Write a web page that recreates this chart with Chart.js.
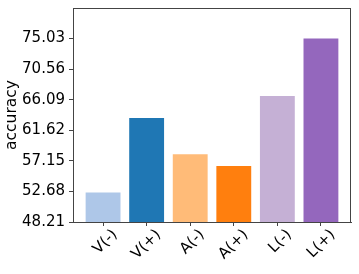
<!DOCTYPE html>
<html><head><meta charset="utf-8">
<script src="https://cdn.jsdelivr.net/npm/chart.js@4.4.0/dist/chart.umd.min.js"></script>
<style>html,body{margin:0;padding:0;background:#fff}#wrap{width:359px;height:274px;position:relative}</style>
</head><body><div id="wrap"><canvas id="c"></canvas></div>
<script>
const categories = ['V(-)', 'V(+)', 'A(-)', 'A(+)', 'L(-)', 'L(+)'];
const accuracy = [52.53, 63.43, 58.10, 56.39, 66.62, 75.03];
const barColors = ['#aec7e8', '#1f77b4', '#ffbb78', '#ff7f0e', '#c5b0d5', '#9467bd'];
const yTicks = [48.21, 52.68, 57.15, 61.62, 66.09, 70.56, 75.03];
const yMin = 48.21, yMax = 79.50;
const yLabel = 'accuracy';

const FONT = {family: '"DejaVu Sans", sans-serif', size: 15};
const frame = {
  id: 'frame',
  afterDraw(chart) {
    const {ctx, chartArea: a} = chart;
    ctx.save();
    ctx.strokeStyle = '#444';
    ctx.lineWidth = 1;
    ctx.strokeRect(Math.round(a.left) + 0.5, Math.round(a.top) + 0.5, Math.round(a.right - a.left) - 1, Math.round(a.bottom - a.top));
    ctx.restore();
  }
};
const noPad = s => { s.paddingTop = 0; s.paddingBottom = 0; s.paddingLeft = 0; s.paddingRight = 0; };

new Chart(document.getElementById('c'), {
  type: 'bar',
  data: {
    datasets: [{
      data: accuracy.map((v, i) => ({x: i, y: v})),
      backgroundColor: barColors,
      borderWidth: 0,
      barPercentage: 0.8,
      categoryPercentage: 1.0
    }]
  },
  options: {
    responsive: true,
    maintainAspectRatio: false,
    animation: false,
    devicePixelRatio: 1,
    layout: {padding: {top: 8, right: 8, left: 0, bottom: 0}},
    plugins: {legend: {display: false}, tooltip: {enabled: false}},
    scales: {
      x: {
        type: 'linear',
        offset: false,
        min: -0.69, max: 5.69,
        afterBuildTicks: s => { s.ticks = categories.map((c, i) => ({value: i})); },
        afterFit: s => { s.height = 52; noPad(s); },
        grid: {offset: false, drawOnChartArea: false, drawTicks: true, tickLength: 4, tickColor: '#444'},
        border: {display: true, color: '#444'},
        ticks: {
          callback: v => categories[v],
          minRotation: 45, maxRotation: 45,
          labelOffset: 12,
          padding: 0,
          color: '#000',
          font: FONT,
          autoSkip: false
        }
      },
      y: {
        min: yMin, max: yMax,
        afterBuildTicks: s => { s.ticks = yTicks.map(v => ({value: v})); },
        afterFit: s => { s.width = 73; noPad(s); },
        grid: {drawOnChartArea: false, drawTicks: true, tickLength: 4, tickColor: '#444'},
        border: {display: true, color: '#444'},
        ticks: {
          callback: v => v.toFixed(2),
          padding: 4,
          color: '#000',
          font: FONT
        },
        title: {display: true, text: yLabel, color: '#000', font: {family: FONT.family, size: 15.5}, padding: {top: 3, bottom: 0}}
      }
    }
  },
  plugins: [frame]
});
</script></body></html>
